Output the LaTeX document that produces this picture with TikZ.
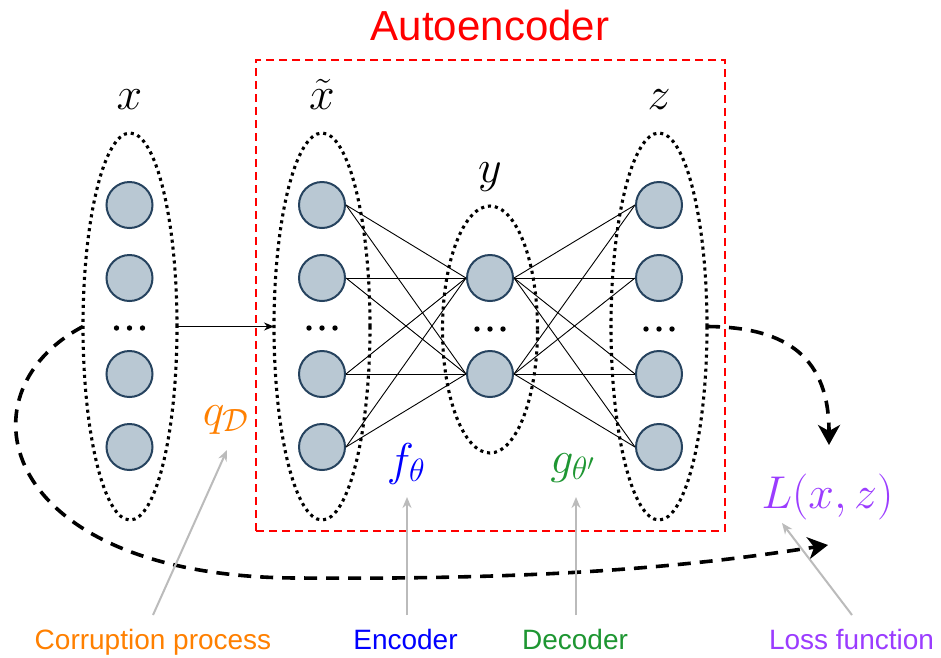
\RequirePackage{fix-cm}
\documentclass[tikz,border=0pt]{standalone}
\usepackage{fontspec}
\newfontfamily\labelfont{Liberation Sans}
\usetikzlibrary{shapes.geometric,arrows.meta}

\definecolor{nodefill}{RGB}{185,200,211}
\definecolor{nodeedge}{RGB}{38,67,95}
\definecolor{corrorange}{RGB}{255,128,0}
\definecolor{encblue}{RGB}{0,0,255}
\definecolor{decgreen}{RGB}{30,150,50}
\definecolor{losspurple}{RGB}{155,60,255}
\definecolor{pointergray}{RGB}{187,187,187}

\tikzset{
  neuron/.style={circle, draw=nodeedge, fill=nodefill, line width=2pt,
                 minimum size=46pt, inner sep=0pt},
  layer/.style={ellipse, draw=black, line width=3.1pt,
                dash pattern=on 3.1pt off 3.9pt, inner sep=0pt, outer sep=0pt},
  wire/.style={draw=black, line width=0.9pt},
  mathlabel/.style={font=\fontsize{46}{50}\selectfont, inner sep=0pt, anchor=base},
  caption/.style={font=\labelfont\fontsize{28}{32}\selectfont, inner sep=0pt, anchor=base},
  pointer/.style={draw=pointergray, line width=2pt, -{Stealth[length=11pt,width=9pt]}},
  lossflow/.style={draw=black, line width=3.6pt, dash pattern=on 13pt off 9pt,
                   -{Stealth[length=20pt,width=22pt,inset=6pt]}},
  aebox/.style={draw=red, line width=2pt, dash pattern=on 8pt off 5pt,
                inner sep=0pt, outer sep=0pt},
  feed/.style={draw=black, line width=1.1pt, -{Stealth[length=10pt,width=8pt]}},
}

\begin{document}
\begin{tikzpicture}[x=1pt, y=-1pt]
  \fill[white] (0,0) rectangle (941,657);
  \useasboundingbox (0,0) rectangle (941,657);

  % autoencoder frame and title
  \node[aebox, minimum width=469pt, minimum height=471pt] (ae) at (490.5,295.5) {};
  \node[caption, text=red, font=\labelfont\fontsize{42}{46}\selectfont] (aetitle) at (490,40) {Autoencoder};

  % layer outlines
  \node[layer, minimum width=94pt, minimum height=387pt] (ex)  at (130,326.5) {};
  \node[layer, minimum width=96pt, minimum height=387pt] (ext) at (322,326.5) {};
  \node[layer, minimum width=95pt, minimum height=247pt] (ey)  at (490,329.5) {};
  \node[layer, minimum width=96pt, minimum height=387pt] (ez)  at (659,326.5) {};

  % layer names
  \node[mathlabel] (lx)  at (129.5,109) {$x$};
  \node[mathlabel] (lxt) at (322,109)   {$\tilde{x}$};
  \node[mathlabel] (ly)  at (490,182)   {$y$};
  \node[mathlabel] (lz)  at (659,109)   {$z$};

  % neurons
  \foreach \n/\yy in {1/205,2/278,3/374,4/447}{
    \node[neuron] (x\n)  at (129.5,\yy) {};
    \node[neuron] (xt\n) at (322,\yy)   {};
    \node[neuron] (z\n)  at (659,\yy)   {};
  }
  \node[neuron] (y1) at (490,278) {};
  \node[neuron] (y2) at (490,374) {};

  % ellipsis dots between neurons
  \foreach \cx/\cy in {129.5/328, 322/328, 490/329, 659/329}{
    \foreach \dx in {-13,0,13}
      \fill (\cx+\dx,\cy) circle (2.7);
  }

  % fully connected wiring
  \foreach \i in {1,...,4}{
    \foreach \j in {1,2}{
      \draw[wire] (xt\i.east) -- (y\j.west);
      \draw[wire] (y\j.east) -- (z\i.west);
    }
  }

  % corruption step
  \draw[feed] (ex.east) -- (ext.west);

  % function labels
  \node[mathlabel, text=corrorange] (qd) at (226,425) {$q_{\mathcal{D}}$};
  \node[mathlabel, text=encblue]    (ft) at (406,475) {$f_{\theta}$};
  \node[mathlabel, text=decgreen]   (gt) at (572.5,473) {$g_{\theta'}$};
  \node[mathlabel, text=losspurple] (lo) at (827.5,508) {$L(x,z)$};

  % loss paths
  \draw[lossflow] (ex.west) .. controls (-45,394) and (0,578) .. (300,578)
                  .. controls (560,580) and (700,565) .. (828,545);
  \draw[lossflow] (ez.east) .. controls (790,327) and (829,360) .. (829,445);

  % captions
  \node[caption, text=corrorange] (corr) at (153,649)   {Corruption process};
  \node[caption, text=encblue]    (enc)  at (405.5,649) {Encoder};
  \node[caption, text=decgreen]   (dec)  at (575,649)   {Decoder};
  \node[caption, text=losspurple] (loss) at (851.5,649) {Loss function};

  % pointer ends
  \coordinate (qtip)  at (227,450);
  \coordinate (ftip)  at (407,497);
  \coordinate (gtip)  at (576,497);
  \coordinate (ltip)  at (782,523);
  \coordinate (ctail) at (153,615);
  \coordinate (etail) at (407,615);
  \coordinate (dtail) at (576,615);
  \coordinate (ltail) at (852,615);

  \draw[pointer] (ctail) -- (qtip);
  \draw[pointer] (etail) -- (ftip);
  \draw[pointer] (dtail) -- (gtip);
  \draw[pointer] (ltail) -- (ltip);
\end{tikzpicture}
\end{document}
